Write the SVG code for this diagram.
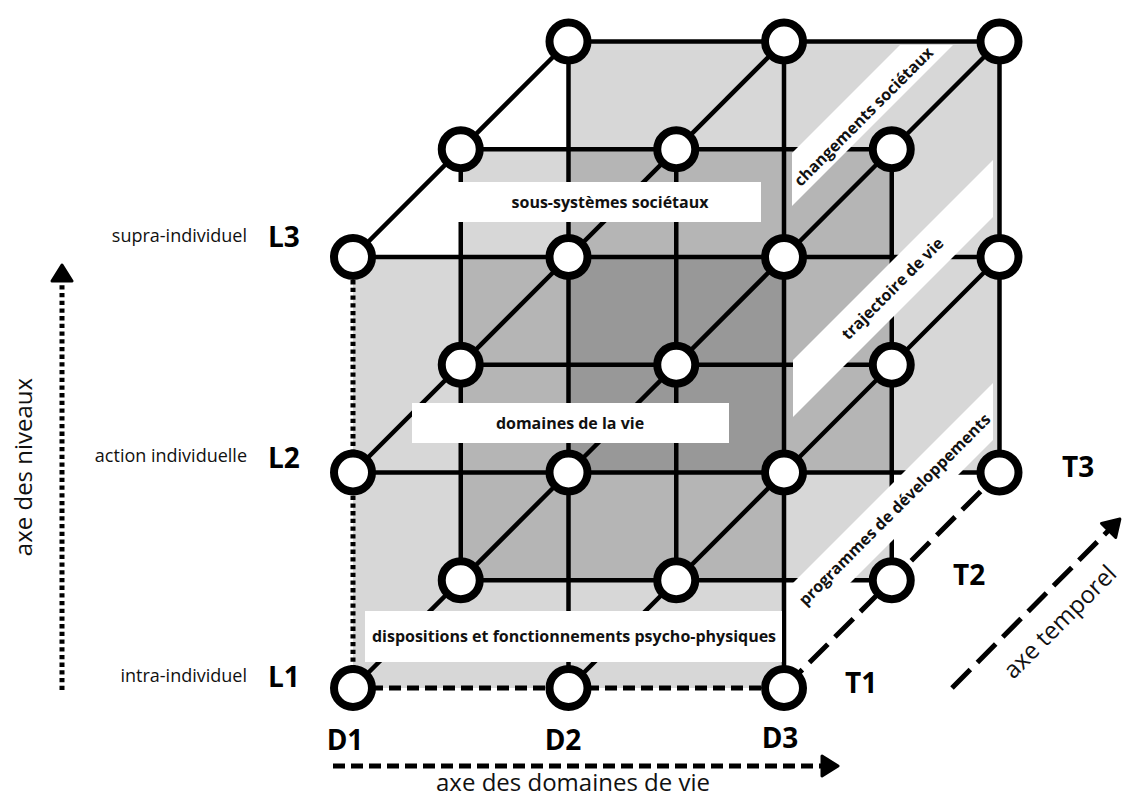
<svg xmlns="http://www.w3.org/2000/svg" width="1123" height="799" viewBox="0 0 1123 799">
<style>
.plane{fill:#000;fill-opacity:0.155}
.ln{stroke:#000;stroke-width:4.5;fill:none}
.dash{stroke:#000;stroke-width:5;fill:none;stroke-dasharray:12 6}
.dot{stroke:#000;stroke-width:5;fill:none;stroke-dasharray:4.3 3.4}
.ldash{stroke:#000;stroke-width:5;fill:none;stroke-dasharray:26 10}
.box{fill:#fff}
.node{fill:#fff;stroke:#000;stroke-width:8}
.bl{font-family:"Open Sans","DejaVu Sans",sans-serif;font-weight:700;font-size:16px;fill:#111}
.big{font-family:"Open Sans","DejaVu Sans",sans-serif;font-weight:700;font-size:28px;fill:#000}
.lev{font-family:"Open Sans","DejaVu Sans",sans-serif;font-size:18px;fill:#111}
.ax{font-family:"Open Sans","DejaVu Sans",sans-serif;font-size:24px;fill:#111}
</style>
<defs>
<marker id="arr" viewBox="0 0 20 24" markerUnits="userSpaceOnUse" markerWidth="20" markerHeight="24" refX="4" refY="12" orient="auto">
<path d="M2,2 L18,12 L2,22 Z" fill="#000" stroke="#000" stroke-width="3" stroke-linejoin="round"/>
</marker>
</defs>
<rect width="1123" height="799" fill="#fff"/>
<g id="planes">
<rect class="plane" x="353" y="257" width="431" height="431"/>
<rect class="plane" x="460.75" y="149.25" width="431" height="431"/>
<rect class="plane" x="568.5" y="41.5" width="431" height="431"/>
</g>
<g id="connectors">
<line class="dash" x1="353" y1="688" x2="784" y2="688"/>
<line class="ln" x1="460.75" y1="580.25" x2="891.75" y2="580.25"/>
<line class="ln" x1="353" y1="472.5" x2="999.5" y2="472.5"/>
<line class="ln" x1="460.75" y1="364.75" x2="891.75" y2="364.75"/>
<line class="ln" x1="353" y1="257" x2="999.5" y2="257"/>
<line class="ln" x1="460.75" y1="149.25" x2="891.75" y2="149.25"/>
<line class="ln" x1="568.5" y1="41.5" x2="999.5" y2="41.5"/>
<line class="dot" x1="353" y1="257" x2="353" y2="688"/>
<line class="ln" x1="460.75" y1="149.25" x2="460.75" y2="580.25"/>
<line class="ln" x1="568.5" y1="41.5" x2="568.5" y2="688"/>
<line class="ln" x1="676.25" y1="149.25" x2="676.25" y2="580.25"/>
<line class="ln" x1="784" y1="41.5" x2="784" y2="688"/>
<line class="ln" x1="891.75" y1="149.25" x2="891.75" y2="580.25"/>
<line class="ln" x1="999.5" y1="41.5" x2="999.5" y2="472.5"/>
<line class="ln" x1="353" y1="688" x2="568.5" y2="472.5"/>
<line class="ln" x1="353" y1="472.5" x2="568.5" y2="257"/>
<line class="ln" x1="353" y1="257" x2="568.5" y2="41.5"/>
<line class="ln" x1="568.5" y1="688" x2="784" y2="472.5"/>
<line class="ln" x1="568.5" y1="472.5" x2="784" y2="257"/>
<line class="ln" x1="568.5" y1="257" x2="784" y2="41.5"/>
<line class="ldash" x1="784" y1="688" x2="999.5" y2="472.5"/>
<line class="ln" x1="784" y1="472.5" x2="999.5" y2="257"/>
<line class="ln" x1="784" y1="257" x2="999.5" y2="41.5"/>
</g>
<g id="labels-bands">
<rect class="box" x="458" y="182" width="303" height="40"/>
<text class="bl" x="610" y="208" text-anchor="middle">sous-systèmes sociétaux</text>
<rect class="box" x="412" y="403" width="317" height="40"/>
<text class="bl" x="570" y="429" text-anchor="middle">domaines de la vie</text>
<rect class="box" x="365" y="611" width="417" height="51"/>
<text class="bl" x="574" y="642" text-anchor="middle">dispositions et fonctionnements psycho-physiques</text>
<polygon class="box" points="792,153 900,45 953,45 792,206"/>
<text class="bl" transform="translate(864,117) rotate(-45)" text-anchor="middle" dy="5">changements sociétaux</text>
<polygon class="box" points="793,360 993,160 993,217 793,417"/>
<text class="bl" transform="translate(893,289) rotate(-45)" text-anchor="middle" dy="5">trajectoire de vie</text>
<polygon class="box" points="793,583 993,383 993,440 793,640"/>
<text class="bl" transform="translate(895,510) rotate(-45)" text-anchor="middle" dy="5">programmes de développements</text>
</g>
<g id="nodes">
<g id="n-d1-l1-t1"><circle class="node" cx="353" cy="688" r="19"/></g>
<g id="n-d2-l1-t1"><circle class="node" cx="568.5" cy="688" r="19"/></g>
<g id="n-d3-l1-t1"><circle class="node" cx="784" cy="688" r="19"/></g>
<g id="n-d1-l2-t1"><circle class="node" cx="353" cy="472.5" r="19"/></g>
<g id="n-d2-l2-t1"><circle class="node" cx="568.5" cy="472.5" r="19"/></g>
<g id="n-d3-l2-t1"><circle class="node" cx="784" cy="472.5" r="19"/></g>
<g id="n-d1-l3-t1"><circle class="node" cx="353" cy="257" r="19"/></g>
<g id="n-d2-l3-t1"><circle class="node" cx="568.5" cy="257" r="19"/></g>
<g id="n-d3-l3-t1"><circle class="node" cx="784" cy="257" r="19"/></g>
<g id="n-d1-l1-t2"><circle class="node" cx="460.75" cy="580.25" r="19"/></g>
<g id="n-d2-l1-t2"><circle class="node" cx="676.25" cy="580.25" r="19"/></g>
<g id="n-d3-l1-t2"><circle class="node" cx="891.75" cy="580.25" r="19"/></g>
<g id="n-d1-l2-t2"><circle class="node" cx="460.75" cy="364.75" r="19"/></g>
<g id="n-d2-l2-t2"><circle class="node" cx="676.25" cy="364.75" r="19"/></g>
<g id="n-d3-l2-t2"><circle class="node" cx="891.75" cy="364.75" r="19"/></g>
<g id="n-d1-l3-t2"><circle class="node" cx="460.75" cy="149.25" r="19"/></g>
<g id="n-d2-l3-t2"><circle class="node" cx="676.25" cy="149.25" r="19"/></g>
<g id="n-d3-l3-t2"><circle class="node" cx="891.75" cy="149.25" r="19"/></g>
<g id="n-d1-l3-t3"><circle class="node" cx="568.5" cy="41.5" r="19"/></g>
<g id="n-d2-l3-t3"><circle class="node" cx="784" cy="41.5" r="19"/></g>
<g id="n-d3-l3-t3"><circle class="node" cx="999.5" cy="41.5" r="19"/></g>
<g id="n-d3-l2-t3"><circle class="node" cx="999.5" cy="257" r="19"/></g>
<g id="n-d3-l1-t3"><circle class="node" cx="999.5" cy="472.5" r="19"/></g>
</g>
<g id="axes">
<line class="dot" x1="62" y1="690" x2="62" y2="279" marker-end="url(#arr)"/>
<line class="dash" x1="333" y1="766" x2="824" y2="766" marker-end="url(#arr)"/>
<line class="ldash" x1="952" y1="688" x2="1110" y2="529" marker-end="url(#arr)"/>
<text class="ax" transform="translate(32,467) rotate(-90)" text-anchor="middle">axe des niveaux</text>
<text class="ax" x="573" y="791" text-anchor="middle">axe des domaines de vie</text>
<text class="ax" transform="translate(1060,622) rotate(-45)" text-anchor="middle" dy="8">axe temporel</text>
</g>
<g id="axis-labels">
<text class="lev" x="247" y="242" text-anchor="end">supra-individuel</text>
<text class="lev" x="247" y="462" text-anchor="end">action individuelle</text>
<text class="lev" x="247" y="682" text-anchor="end">intra-individuel</text>
<text class="big" x="268" y="247">L3</text>
<text class="big" x="268" y="468">L2</text>
<text class="big" x="268" y="687">L1</text>
<text class="big" x="345" y="750" text-anchor="middle">D1</text>
<text class="big" x="563" y="750" text-anchor="middle">D2</text>
<text class="big" x="780" y="748" text-anchor="middle">D3</text>
<text class="big" x="845" y="693">T1</text>
<text class="big" x="953" y="585">T2</text>
<text class="big" x="1062" y="477">T3</text>
</g>
</svg>
